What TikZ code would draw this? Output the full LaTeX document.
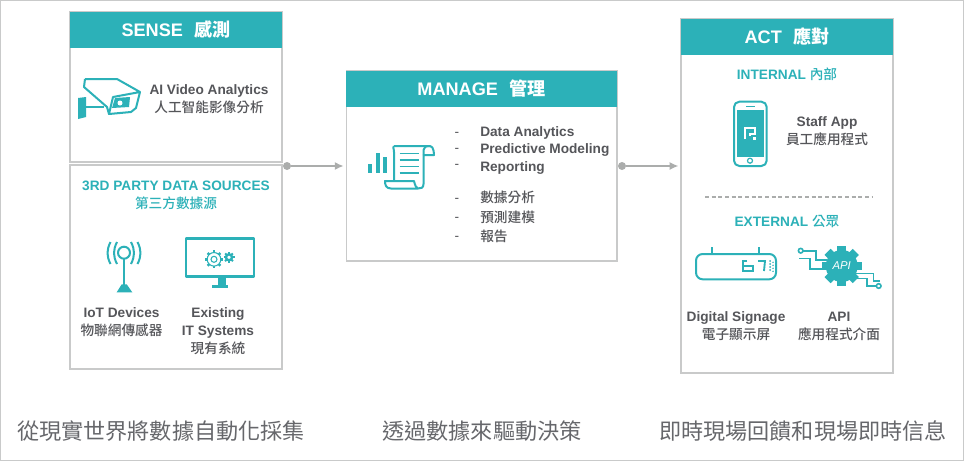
\documentclass[tikz,border=0pt]{standalone}
\usepackage{fontspec}
\usepackage{tikz}
\usetikzlibrary{positioning,arrows.meta}
\setmainfont{Liberation Sans}
\newfontfamily\cjk{Noto Sans CJK TC Medium}[BoldFont={Noto Sans CJK TC Medium}]
\newfontfamily\cjkhead{Noto Sans CJK TC}
\newfontfamily\cjkfoot{Noto Sans CJK TC}
\newcommand{\zh}[1]{{\cjk #1}}
\newcommand{\zhhead}[1]{{\cjkhead #1}}
\definecolor{teal1}{HTML}{2CB1B8}
\definecolor{ink}{HTML}{55565A}
\definecolor{rule1}{HTML}{C9CACA}
\definecolor{flow1}{HTML}{ABADAC}

\begin{document}
\begin{tikzpicture}[x=0.75pt,y=-0.75pt,>={Latex[length=6.5pt,width=6pt]}]

    \tikzstyle{panel} = [draw=rule1, line width=1pt, fill=white, minimum width=159pt, inner sep=0pt];
    \tikzstyle{head} = [fill=teal1, text=white, minimum height=27pt, inner sep=0pt, font=\fontsize{13.6}{16}\selectfont\bfseries];
    \tikzstyle{item} = [text=ink, align=center, inner sep=0pt, font=\fontsize{10.25}{13.3}\selectfont\bfseries];
    \tikzstyle{sub} = [text=teal1, align=center, inner sep=0pt, font=\fontsize{10.25}{13.3}\selectfont\bfseries];
    \tikzstyle{foot} = [text=ink!90, inner sep=0pt, font=\fontsize{16.6}{20}\selectfont\cjkfoot];
    \tikzstyle{flowdot} = [circle, fill=flow1, minimum size=6pt, inner sep=0pt];
    \tikzstyle{flow} = [->, draw=flow1, line width=1pt, shorten >=1.5pt];
    \tikzstyle{icon} = [draw=teal1, line width=1.5pt, line join=round];
    \tikzstyle{iconfill} = [fill=teal1];

    \draw[rule1, line width=1pt] (0.7,0.7) rectangle (963.3,460.3);
    \useasboundingbox (0,0) rectangle (964,461);

    % boxes
    \node[panel, minimum height=112.5pt] (sense) at (176,87) {};
    \node[panel, minimum height=153pt] (party) at (176,267) {};
    \node[panel, minimum width=203pt, minimum height=142.5pt] (manage) at (481.5,166) {};
    \node[panel, minimum height=265.5pt] (act) at (787,196) {};

    \node[head, minimum width=159pt, below=0pt of sense.north] (sensehead) {SENSE\hspace{0.62em}\zhhead{感測}};
    \node[head, minimum width=203pt, below=0pt of manage.north] (managehead) {MANAGE\hspace{0.62em}\zhhead{管理}};
    \node[head, minimum width=159pt, below=0pt of act.north] (acthead) {ACT\hspace{0.62em}\zhhead{應對}};

    % flow
    \node[flowdot] (d1) at (287,166) {};
    \node[flowdot] (d2) at (622,166) {};
    \draw[flow] (d1) -- (manage.west);
    \draw[flow] (d2) -- (act.west |- d2);

    % texts
    \node[item] (video) at (209,99.5) {AI Video Analytics\\\zh{人工智能影像分析}};
    \node[sub] (partytext) at (176,195.5) {3RD PARTY DATA SOURCES\\\zh{第三方數據源}};
    \node[item] (iot) at (121.5,322.5) {IoT Devices\\\zh{物聯網傳感器}};
    \node[item] (systems) at (218,331) {Existing\\IT Systems\\\zh{現有系統}};
    \node[item, align=left, anchor=north west] (list) at (480,126) {Data Analytics\\Predictive Modeling\\Reporting};
    \node[item, align=left, anchor=north west, font=\fontsize{10.25}{14.4}\selectfont\bfseries] (listzh) at (480,191) {\zh{數據分析}\\\zh{預測建模}\\\zh{報告}};
    \foreach \y in {134,150,166,200,219,238}
        \node[item, font=\fontsize{10.25}{13.3}\selectfont] at (457,\y) {-};
    \node[sub] (internal) at (787,74) {INTERNAL \zh{內部}};
    \node[item] (staff) at (827,131.5) {Staff App\\\zh{員工應用程式}};
    \node[sub] (external) at (787,222) {EXTERNAL \zh{公眾}};
    \node[item] (signage) at (736,326.5) {Digital Signage\\\zh{電子顯示屏}};
    \node[item] (apitext) at (839,326.5) {API\\\zh{應用程式介面}};
    \node[foot] (foot1) at (161,431) {從現實世界將數據自動化採集};
    \node[foot] (foot2) at (482,431) {透過數據來驅動決策};
    \node[foot] (foot3) at (803,431) {即時現場回饋和現場即時信息};
    \draw[flow1, line width=1pt, dash pattern=on 3pt off 2pt] (705,197) -- (872,197);

    % camera
    \draw[icon] (85,79) -- (117,79) -- (140,92) -- (136,108) -- (131,112) -- (109,114) -- (113,97) -- (140,92);
    \draw[icon] (85,79) -- (84,87) -- (107,107) -- (109,114);
    \fill[iconfill] (115,98) -- (130,97) -- (129,107) -- (112,108) -- cycle;
    \fill[white] (120,103) circle (2.5);
    \fill[iconfill] (78,98) -- (86,97) -- (86,117) -- (78,119) -- cycle;
    \draw[draw=teal1, line width=2pt] (86,107) -- (104,107);

    % antenna
    \draw[icon] (124,252.7) circle (6);
    \draw[icon] (124,258.7) -- (124,285);
    \fill[iconfill] (116.7,292.3) -- (132.3,292.3) -- (126.7,284.3) -- (121.7,284.3) -- cycle;
    \foreach \s/\b in {1/9, 1/15.5, -1/9, -1/15.5}
        \draw[icon] ({124-\s*\b+\s*2},242) .. controls ({124-\s*\b-\s*2},250) and ({124-\s*\b-\s*2},256) .. ({124-\s*\b+\s*2},264);

    % monitor
    \draw[icon, line width=2pt] (186,238.7) rectangle (254,276.7);
    \fill[iconfill] (217.7,276.7) rectangle (225.7,285);
    \fill[iconfill] (212.3,285) rectangle (227.7,288);
    \coordinate (g1) at (214,259.3);
    \coordinate (g2) at (229,257.3);
    \foreach \a in {0,45,...,315}
        \draw[teal1, line width=1.8pt] ([shift={(\a:6.5)}]g1) -- ([shift={(\a:9)}]g1);
    \draw[teal1, line width=0.8pt, fill=white] (g1) circle (6.8);
    \draw[teal1, line width=0.8pt] (g1) circle (3);
    \foreach \a in {0,45,...,315}
        \draw[teal1, line width=1.5pt] ([shift={(\a:3)}]g2) -- ([shift={(\a:5.5)}]g2);
    \draw[teal1, line width=1.8pt] (g2) circle (3);

    % scroll
    \foreach \x/\t in {368/164, 375.7/153, 382.7/157}
        \fill[iconfill] (\x,\t) rectangle ({\x+4},173);
    \draw[icon] (394,146) -- (430,146) .. controls (434,146) and (434,155) .. (434,155) -- (423.5,155) -- (423.5,184)
        .. controls (423.5,188) and (421,188.5) .. (418,188.5) -- (391,188.5)
        .. controls (386,188.5) and (385,185) .. (385,181) -- (414,181) .. controls (415,185) and (416,188) .. (418,188.5);
    \draw[icon] (394,146) .. controls (392,146) and (394,148) .. (394,152) -- (394,181);
    \draw[icon] (423.5,155) -- (423.5,150) .. controls (423.5,147) and (426,146) .. (430,146);
    \foreach \y in {153.5,160,166.5,173}
        \draw[teal1, line width=1.3pt] (399.5,\y) -- (418.5,\y);

    % phone
    \draw[icon, rounded corners=4pt] (734,101.7) rectangle (766.7,166);
    \fill[iconfill] (736.7,110) rectangle (764,156.7);
    \draw[teal1, line width=0.9pt] (746,106.3) -- (755,106.3);
    \draw[teal1, line width=0.9pt] (750,160.7) circle (2.5);
    \draw[white, line width=1.5pt] (745,139) -- (745,128) -- (755,128) -- (755,134) -- (749.5,134) -- (749.5,136);
    \fill[white] (753,137) rectangle (756,140);

    % signage
    \draw[icon, rounded corners=5pt] (696,254) rectangle (776,279.3);
    \draw[icon] (711.7,247.3) -- (711.7,254);
    \draw[icon] (759.3,247.3) -- (759.3,254);
    \draw[teal1, line width=1.4pt] (747,261) -- (743,261) -- (743,271) -- (753,271) -- (753,266) -- (743,266);
    \draw[teal1, line width=1.4pt] (758,261) -- (765,261) -- (764,271);
    \foreach \y in {261,264,267,270}
        \fill[iconfill] (770,\y) circle (1) (773,{\y+1.3}) circle (0.8);

    % api gear
    \coordinate (g3) at (841.7,266);
    \foreach \a in {0,45,...,315}
        \draw[teal1, line width=6.5pt] ([shift={(\a:12)}]g3) -- ([shift={(\a:20)}]g3);
    \fill[iconfill] (g3) circle (16);
    \node[text=white, inner sep=0pt, font=\fontsize{8.5}{10}\selectfont\itshape] (apilogo) at (g3) {API};
    \draw[teal1, line width=1.2pt] (800.7,250.7) circle (2.3);
    \draw[teal1, line width=1.2pt] (803,250.7) -- (815.7,250.7) -- (815.7,260) -- (827,260);
    \draw[teal1, line width=1.2pt] (799,258.3) -- (810,258.3) -- (810,269) -- (825,269);
    \draw[teal1, line width=1.2pt] (855,273.3) -- (873.3,273.3) -- (873.3,280.7) -- (880,280.7);
    \draw[teal1, line width=1.2pt] (853,278.3) -- (866.7,278.3) -- (866.7,286) -- (876.5,286);
    \draw[teal1, line width=1.2pt] (878.7,286) circle (2.3);

\end{tikzpicture}
\end{document}
